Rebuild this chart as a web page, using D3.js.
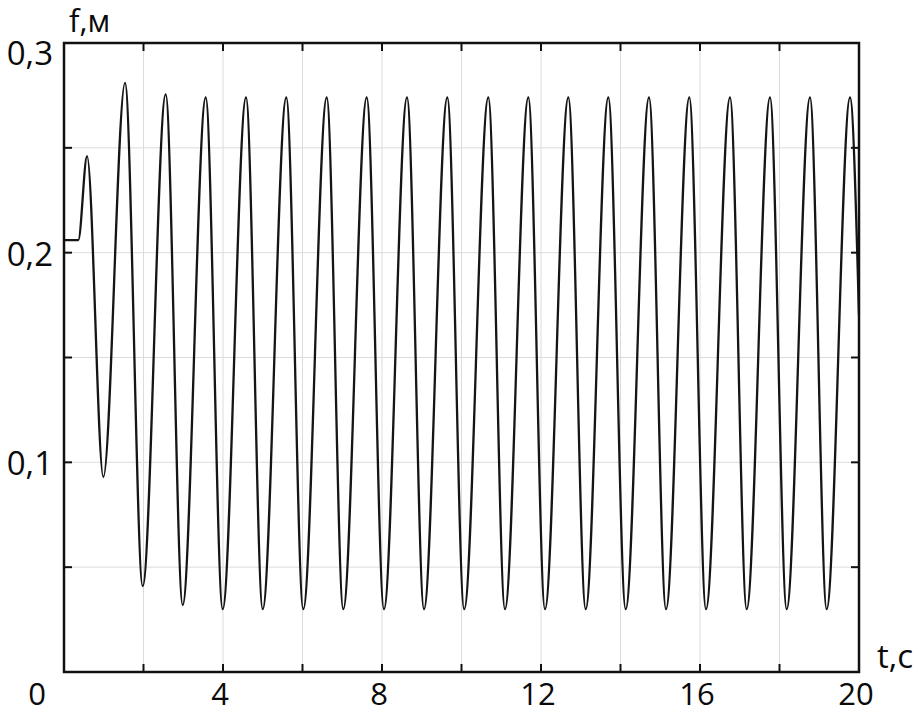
<!DOCTYPE html>
<html>
<head>
<meta charset="utf-8">
<script src="https://cdn.jsdelivr.net/npm/d3@7"></script>
<style>
  body { margin: 0; background: #fff; }
  svg text { font-family: "Open Sans", "Noto Sans", sans-serif; fill: #0a0a0a; }
</style>
</head>
<body>
<svg id="chart" width="918" height="714"></svg>
<script>
// knot points of f(t) (extrema + start/end)
var times = [0, 0.36, 0.58, 0.99, 1.535, 1.98, 2.558, 2.986, 3.565, 3.992,
  4.579, 4.999, 5.592, 6.02, 6.609, 7.026, 7.615, 8.05, 8.629, 9.057,
  9.643, 10.068, 10.674, 11.094, 11.681, 12.101, 12.687, 13.125, 13.693, 14.131,
  14.717, 15.145, 15.731, 16.151, 16.755, 17.175, 17.761, 18.181, 18.767, 19.187,
  19.774, 20];
var values = [0.206, 0.206, 0.246, 0.093, 0.281, 0.041, 0.2755, 0.032, 0.274, 0.030,
  0.274, 0.030, 0.274, 0.030, 0.274, 0.030, 0.274, 0.030, 0.274, 0.030,
  0.274, 0.030, 0.274, 0.030, 0.274, 0.030, 0.274, 0.030, 0.274, 0.030,
  0.274, 0.030, 0.274, 0.030, 0.274, 0.030, 0.274, 0.030, 0.274, 0.030,
  0.274, 0.17];

var xGrid = [2, 4, 6, 8, 10, 12, 14, 16, 18];
var yGrid = [0.05, 0.1, 0.15, 0.2, 0.25];
var xLabels = ["0", "4", "8", "12", "16", "20"];
var xLabelVals = [0, 4, 8, 12, 16, 20];
var yLabels = ["0,1", "0,2", "0,3"];
var yLabelVals = [0.1, 0.2, 0.3];

var pL = 64, pT = 43, pR = 859, pB = 672;
var svg = d3.select("#chart");

var x = d3.scaleLinear().domain([0, 20]).range([pL, pR]);
var y = d3.scaleLinear().domain([0, 0.3]).range([pB, pT]);

// grid
svg.append("g").selectAll("line").data(xGrid).enter().append("line")
  .attr("x1", function(d) { return x(d); }).attr("x2", function(d) { return x(d); })
  .attr("y1", pT).attr("y2", pB)
  .attr("stroke", "#dcdcdc").attr("stroke-width", 1);
svg.append("g").selectAll("line").data(yGrid).enter().append("line")
  .attr("y1", function(d) { return y(d); }).attr("y2", function(d) { return y(d); })
  .attr("x1", pL).attr("x2", pR)
  .attr("stroke", "#dcdcdc").attr("stroke-width", 1);

// inward ticks on all four sides
var tk = 8;
var ticks = svg.append("g").attr("stroke", "#111").attr("stroke-width", 2);
xGrid.forEach(function(d) {
  ticks.append("line").attr("x1", x(d)).attr("x2", x(d)).attr("y1", pB).attr("y2", pB - tk);
  ticks.append("line").attr("x1", x(d)).attr("x2", x(d)).attr("y1", pT).attr("y2", pT + tk);
});
yGrid.forEach(function(d) {
  ticks.append("line").attr("y1", y(d)).attr("y2", y(d)).attr("x1", pL).attr("x2", pL + tk);
  ticks.append("line").attr("y1", y(d)).attr("y2", y(d)).attr("x1", pR).attr("x2", pR - tk);
});

// curve
svg.append("clipPath").attr("id", "clip").append("rect")
  .attr("x", pL).attr("y", pT).attr("width", pR - pL).attr("height", pB - pT);

var pts = times.map(function(t, i) { return [t, values[i]]; });
var line = d3.line()
  .x(function(d) { return x(d[0]); })
  .y(function(d) { return y(d[1]); })
  .curve(d3.curveMonotoneX);

svg.append("path").datum(pts)
  .attr("clip-path", "url(#clip)")
  .attr("d", line)
  .attr("fill", "none")
  .attr("stroke", "#151515")
  .attr("stroke-width", 2.3);

// frame
svg.append("rect")
  .attr("x", pL).attr("y", pT).attr("width", pR - pL).attr("height", pB - pT)
  .attr("fill", "none").attr("stroke", "#111").attr("stroke-width", 2.5);

// labels
svg.append("g").selectAll("text").data(xLabels).enter().append("text")
  .attr("x", function(d, i) { return xLabelVals[i] == 0 ? x(0) - 27 : x(xLabelVals[i]) - 3; })
  .attr("y", 705)
  .attr("text-anchor", "middle")
  .attr("font-size", 31)
  .text(function(d) { return d; });

svg.append("g").selectAll("text").data(yLabels).enter().append("text")
  .attr("x", 53)
  .attr("y", function(d, i) { return yLabelVals[i] == 0.3 ? y(0.3) + 22 : y(yLabelVals[i]) + 13; })
  .attr("text-anchor", "end")
  .attr("font-size", 33)
  .text(function(d) { return d; });

svg.append("text").attr("x", 69).attr("y", 32).attr("font-size", 31).text("f,м");
svg.append("text").attr("x", 877).attr("y", 668).attr("font-size", 33).text("t,c");
</script>
</body>
</html>
